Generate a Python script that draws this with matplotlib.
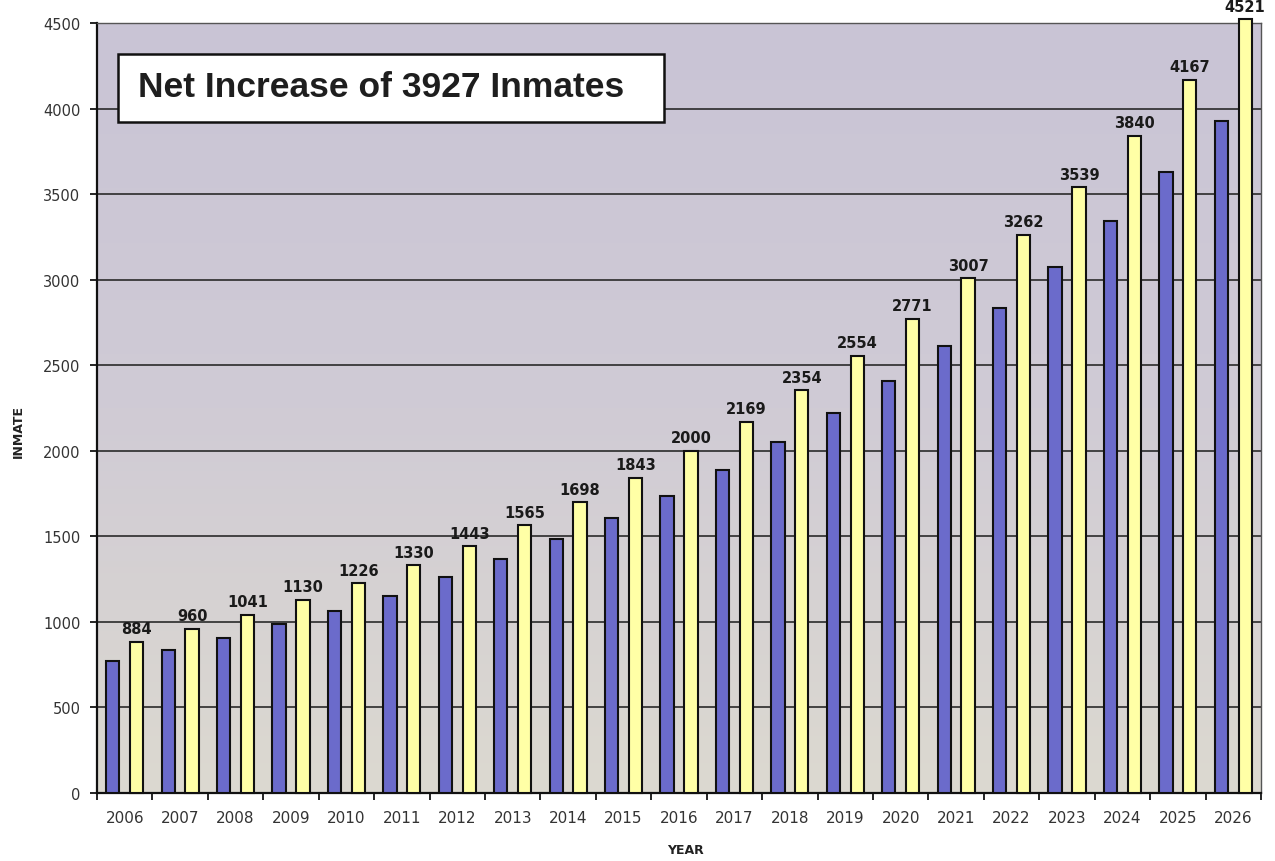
import numpy as np
import matplotlib
matplotlib.use("Agg")
import matplotlib.pyplot as plt
from matplotlib.patches import Rectangle
from matplotlib.colors import LinearSegmentedColormap

years = [str(y) for y in range(2006, 2027)]
# blue series (current capacity)
base = [770, 834, 905, 986, 1063, 1153, 1260, 1368, 1482, 1608, 1738,
        1889, 2050, 2220, 2410, 2612, 2833, 3072, 3343, 3628, 3930]
# yellow series (projected inmates), labelled on the chart
projected = [884, 960, 1041, 1130, 1226, 1330, 1443, 1565, 1698, 1843, 2000,
             2169, 2354, 2554, 2771, 3007, 3262, 3539, 3840, 4167, 4521]
yticks = list(range(0, 4501, 500))

plt.rcParams['font.family'] = ['DejaVu Sans']

W, H = 1275, 862
fig = plt.figure(figsize=(W / 100, H / 100), dpi=100)
fig.patch.set_facecolor('white')
ax = fig.add_axes([97 / W, 1 - 794 / H, (1261 - 97) / W, (794 - 24) / H])

# soft lavender-to-beige plot background
cmap = LinearSegmentedColormap.from_list('bg', ['#c9c4d5', '#d0cbd5', '#dcd9d0'])
grad = np.linspace(0, 1, 256).reshape(-1, 1)
ax.imshow(grad, aspect='auto', cmap=cmap, extent=[0, 1, 0, 1],
          transform=ax.transAxes, zorder=0)

x = np.arange(len(years))
w = 0.24
ax.bar(x - 0.215, base, width=w, color='#6b6bcb', edgecolor='#111111',
       linewidth=1.5, zorder=3)
bars = ax.bar(x + 0.215, projected, width=w, color='#ffffa6', edgecolor='#111111',
              linewidth=1.5, zorder=3, clip_on=False)

for b, v in zip(bars, projected):
    ax.annotate(str(v), (b.get_x() + b.get_width() / 2, v), xytext=(0, 4),
                textcoords='offset points', ha='center', va='bottom',
                fontsize=10.5, fontweight='bold', color='#1a1a1a',
                annotation_clip=False, zorder=4)

ax.set_xlim(-0.5, len(years) - 0.5)
ax.set_ylim(0, 4500)
ax.set_yticks(yticks)
ax.set_yticklabels([str(v) for v in yticks], fontsize=10.5, color='#333333')
ax.tick_params(axis='y', length=5, width=1.2, pad=7, direction='out')

ax.set_xticks(x)
ax.set_xticklabels(years, fontsize=11, color='#333333')
ax.set_xticks(np.arange(-0.5, len(years)), minor=True)
ax.tick_params(axis='x', which='major', length=0, pad=12)
ax.tick_params(axis='x', which='minor', length=5, width=1.2, direction='out')

ax.yaxis.grid(True, color='#2a2a2a', linewidth=1.2, zorder=1)
ax.set_axisbelow(True)
for side in ['left', 'bottom']:
    ax.spines[side].set_color('#111111')
    ax.spines[side].set_linewidth(1.6)
for side in ['top', 'right']:
    ax.spines[side].set_color('#555555')
    ax.spines[side].set_linewidth(1.0)

fig.text(18 / W, 1 - 432 / H, 'INMATE', rotation=90, ha='center', va='center',
         fontsize=9, fontweight='bold', color='#222222')
fig.text(685 / W, 1 - 851 / H, 'YEAR', ha='center', va='center',
         fontsize=9, fontweight='bold', color='#222222')

# headline box
fig.patches.append(Rectangle((118 / W, 1 - 123 / H), (664 - 118) / W, (123 - 55) / H,
                             transform=fig.transFigure, facecolor='white',
                             edgecolor='#111111', linewidth=1.8, zorder=5))
fig.text(138 / W, 1 - 88 / H, 'Net Increase of 3927 Inmates', ha='left', va='center',
         fontsize=25.5, fontweight='bold', color='#1e1e1e',
         family=['Liberation Sans', 'DejaVu Sans'], zorder=6)

fig.savefig('out.png', dpi=100)
